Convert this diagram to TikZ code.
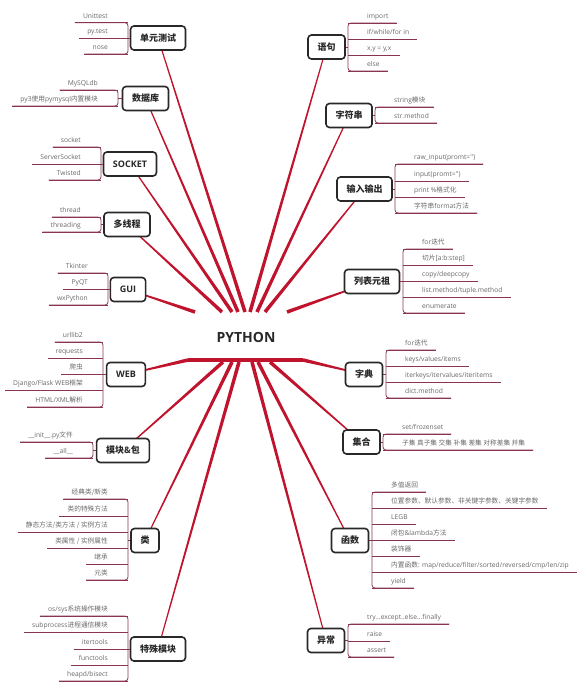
\documentclass[tikz,border=0pt]{standalone}
\usepackage{fontspec}
\setmainfont{Open Sans}
\newfontfamily\cjk{Noto Sans CJK SC}
\usetikzlibrary{calc,backgrounds}
\definecolor{conn}{RGB}{192,20,46}
\definecolor{brc}{RGB}{138,53,80}
\definecolor{itx}{RGB}{105,105,105}
\definecolor{bxc}{RGB}{40,40,40}
\tikzset{
 mainbox/.style={draw=bxc, line width=1.6pt, rounded corners=3.5pt, fill=white, text=bxc, font=\fontsize{9}{10}\selectfont\bfseries, minimum height=24pt, inner xsep=9.5pt},
 itemL/.style={anchor=south east, inner xsep=0pt, inner ysep=2pt, text depth=2.5pt, text height=5pt, text=itx, font=\fontsize{6.7}{8}\selectfont},
 itemR/.style={itemL, anchor=south west},
 br/.style={draw=brc, line width=0.8pt},
}
\newcommand\Li[4]{\node[itemL] (#1) at ({#2-20},#3) {#4};
  \draw[br] ([xshift=-8pt]#1.south west) -- ([xshift=20pt]#1.south east);}
\newcommand\Ri[4]{\node[itemR] (#1) at ({#2+19},#3) {#4};
  \draw[br] ([xshift=-19pt]#1.south west) -- ([xshift=8pt]#1.south east);}
\newcommand\Lb[3]{%
  \draw[br,rounded corners=3pt] ([xshift=-8pt]#2.south west) -- ([xshift=20pt]#2.south east) coordinate (#1-bt) -- ([xshift=20pt]#3.south east) -- ([xshift=-8pt]#3.south west);
  \draw[br] (#1.west) -- (#1.west -| #1-bt);}
\newcommand\Rb[3]{%
  \draw[br,rounded corners=3pt] ([xshift=8pt]#2.south east) -- ([xshift=-19pt]#2.south west) coordinate (#1-bt) -- ([xshift=-19pt]#3.south west) -- ([xshift=8pt]#3.south east);
  \draw[br] (#1.east) -- (#1.east -| #1-bt);}
\newcommand\conwedge[2]{\fill[conn] ($(#1)!1.8pt!90:(#2)$) -- ($(#1)!1.8pt!-90:(#2)$) -- ($(#2)!0.5pt!90:(#1)$) -- ($(#2)!0.5pt!-90:(#1)$) -- cycle;}
\newcommand\q{\textquotesingle}
\begin{document}
\begin{tikzpicture}[x=1pt,y=-1pt]
\useasboundingbox (0,0) rectangle (588,683);
% centre
\node[font=\fontsize{14}{16}\selectfont\bfseries, text=bxc] (py) at (246,337) {PYTHON};
\coordinate (ul-l) at (188,360);
\coordinate (ul-r) at (303,360);
\draw[conn, line width=3.5pt] (ul-l) -- (ul-r);
% start points
\coordinate (s-uc) at (245,312);
\coordinate (s-db) at (238,312);
\coordinate (s-so) at (232,312);
\coordinate (s-mt) at (222,312);
\coordinate (s-gui) at (195,312);
\coordinate (s-yj) at (250,312);
\coordinate (s-zfc) at (257,312);
\coordinate (s-io) at (265,312);
\coordinate (s-lb) at (287,312);
\coordinate (s-mod) at (223,362);
\coordinate (s-cls) at (232,362);
\coordinate (s-spec) at (239,362);
\coordinate (s-exc) at (252,362);
\coordinate (s-fn) at (258,362);
\coordinate (s-set) at (270,362);
% main nodes
\node[mainbox] (uc) at (158,38) {\cjk\bfseries 单元测试};
\node[mainbox] (db) at (145.5,98.5) {\cjk\bfseries 数据库};
\node[mainbox] (so) at (130,164) {SOCKET};
\node[mainbox] (mt) at (127,224.5) {\cjk\bfseries 多线程};
\node[mainbox] (gui) at (128,289.5) {GUI};
\node[mainbox] (web) at (126,374.5) {WEB};
\node[mainbox] (mod) at (123,450.5) {{\cjk\bfseries 模块}\&{\cjk\bfseries 包}};
\node[mainbox] (cls) at (145,540.5) {\cjk\bfseries 类};
\node[mainbox] (spec) at (158,649) {\cjk\bfseries 特殊模块};
\node[mainbox] (yj) at (326.5,47) {\cjk\bfseries 语句};
\node[mainbox] (zfc) at (349,115.5) {\cjk\bfseries 字符串};
\node[mainbox] (io) at (364.5,189) {\cjk\bfseries 输入输出};
\node[mainbox] (lb) at (372,281.5) {\cjk\bfseries 列表元祖};
\node[mainbox] (dic) at (364,374.5) {\cjk\bfseries 字典};
\node[mainbox] (set) at (361.5,442) {\cjk\bfseries 集合};
\node[mainbox] (fn) at (350,540.5) {\cjk\bfseries 函数};
\node[mainbox] (exc) at (326,640.5) {\cjk\bfseries 异常};
% connectors
\begin{pgfonlayer}{background}
\conwedge{s-uc}{uc}
\conwedge{s-db}{db}
\conwedge{s-so}{so}
\conwedge{s-mt}{mt}
\conwedge{s-gui}{gui}
\conwedge{s-yj}{yj}
\conwedge{s-zfc}{zfc}
\conwedge{s-io}{io}
\conwedge{s-lb}{lb}
\conwedge{ul-l}{web}
\conwedge{s-mod}{mod}
\conwedge{s-cls}{cls}
\conwedge{s-spec}{spec}
\conwedge{s-exc}{exc}
\conwedge{s-fn}{fn}
\conwedge{s-set}{set}
\conwedge{ul-r}{dic}
\end{pgfonlayer}
% left groups
\Li{ut1}{128}{22.7}{Unittest}
\Li{ut2}{128}{38}{py.test}
\Li{ut3}{128}{54}{nose}
\Lb{uc}{ut1}{ut3}
\Li{db1}{118}{90}{MySQLdb}
\Li{db2}{118}{106}{py3{\cjk 使用}pymysql{\cjk 内置模块}}
\Lb{db}{db1}{db2}
\Li{so1}{101}{147}{socket}
\Li{so2}{101}{164}{ServerSocket}
\Li{so3}{101}{180}{Twisted}
\Lb{so}{so1}{so3}
\Li{mt1}{101}{217}{thread}
\Li{mt2}{101}{232}{threading}
\Lb{mt}{mt1}{mt2}
\Li{g1}{108}{273}{Tkinter}
\Li{g2}{108}{289}{PyQT}
\Li{g3}{108}{305}{wxPython}
\Lb{gui}{g1}{g3}
\Li{w1}{103}{342}{urllib2}
\Li{w2}{103}{358}{requests}
\Li{w3}{103}{374}{\cjk 爬虫}
\Li{w4}{103}{390}{Django/Flask WEB{\cjk 框架}}
\Li{w5}{103}{407}{HTML/XML{\cjk 解析}}
\Lb{web}{w1}{w5}
\Li{m1}{93}{442}{\_\_init\_\_.py{\cjk 文件}}
\Li{m2}{93}{458}{\_\_all\_\_}
\Lb{mod}{m1}{m2}
\Li{c1}{128}{499}{\cjk 经典类/新类}
\Li{c2}{128}{516}{\cjk 类的特殊方法}
\Li{c3}{128}{532}{\cjk 静态方法/类方法 / 实例方法}
\Li{c4}{128}{548}{\cjk 类属性 / 实例属性}
\Li{c5}{128}{564}{\cjk 继承}
\Li{c6}{128}{580}{\cjk 元类}
\Lb{cls}{c1}{c6}
\Li{sp1}{128}{616}{os/sys{\cjk 系统操作模块}}
\Li{sp2}{128}{632}{subprocess{\cjk 进程通信模块}}
\Li{sp3}{128}{649}{itertools}
\Li{sp4}{128}{665}{functools}
\Li{sp5}{128}{681}{heapd/bisect}
\Lb{spec}{sp1}{sp5}
% right groups
\Ri{y1}{348}{23}{import}
\Ri{y2}{348}{39}{if/while/for in}
\Ri{y3}{348}{55}{x,y = y,x}
\Ri{y4}{348}{71}{else}
\Rb{yj}{y1}{y4}
\Ri{z1}{375}{107}{string{\cjk 模块}}
\Ri{z2}{375}{123}{str.method}
\Rb{zfc}{z1}{z2}
\Ri{i1}{395}{164}{raw\_input(promt=\q\q)}
\Ri{i2}{395}{181}{input(promt=\q\q)}
\Ri{i3}{395}{197}{print \%{\cjk 格式化}}
\Ri{i4}{395}{213}{{\cjk 字符串}format{\cjk 方法}}
\Rb{io}{i1}{i4}
\Ri{l1}{403}{249}{for{\cjk 迭代}}
\Ri{l2}{403}{265}{{\cjk 切片}[a:b:step]}
\Ri{l3}{403}{281}{copy/deepcopy}
\Ri{l4}{403}{297}{list.method/tuple.method}
\Ri{l5}{403}{313}{enumerate}
\Rb{lb}{l1}{l5}
\Ri{d1}{386}{350}{for{\cjk 迭代}}
\Ri{d2}{386}{366}{keys/values/items}
\Ri{d3}{386}{382}{iterkeys/itervalues/iteritems}
\Ri{d4}{386}{398}{dict.method}
\Rb{dic}{d1}{d4}
\Ri{st1}{383}{434}{set/frozenset}
\Ri{st2}{383}{450}{\cjk 子集 真子集 交集 补集 差集 对称差集 并集}
\Rb{set}{st1}{st2}
\Ri{f1}{372}{492}{\cjk 多值返回}
\Ri{f2}{372}{508}{\cjk 位置参数、默认参数、非关键字参数、关键字参数}
\Ri{f3}{372}{524}{LEGB}
\Ri{f4}{372}{540}{{\cjk 闭包}\&lambda{\cjk 方法}}
\Ri{f5}{372}{556}{\cjk 装饰器}
\Ri{f6}{372}{572}{{\cjk 内置函数}: map/reduce/filter/sorted/reversed/cmp/len/zip}
\Ri{f7}{372}{588}{yield}
\Rb{fn}{f1}{f7}
\Ri{e1}{348}{624}{try...except..else...finally}
\Ri{e2}{348}{641}{raise}
\Ri{e3}{348}{657}{assert}
\Rb{exc}{e1}{e3}
\end{tikzpicture}
\end{document}
